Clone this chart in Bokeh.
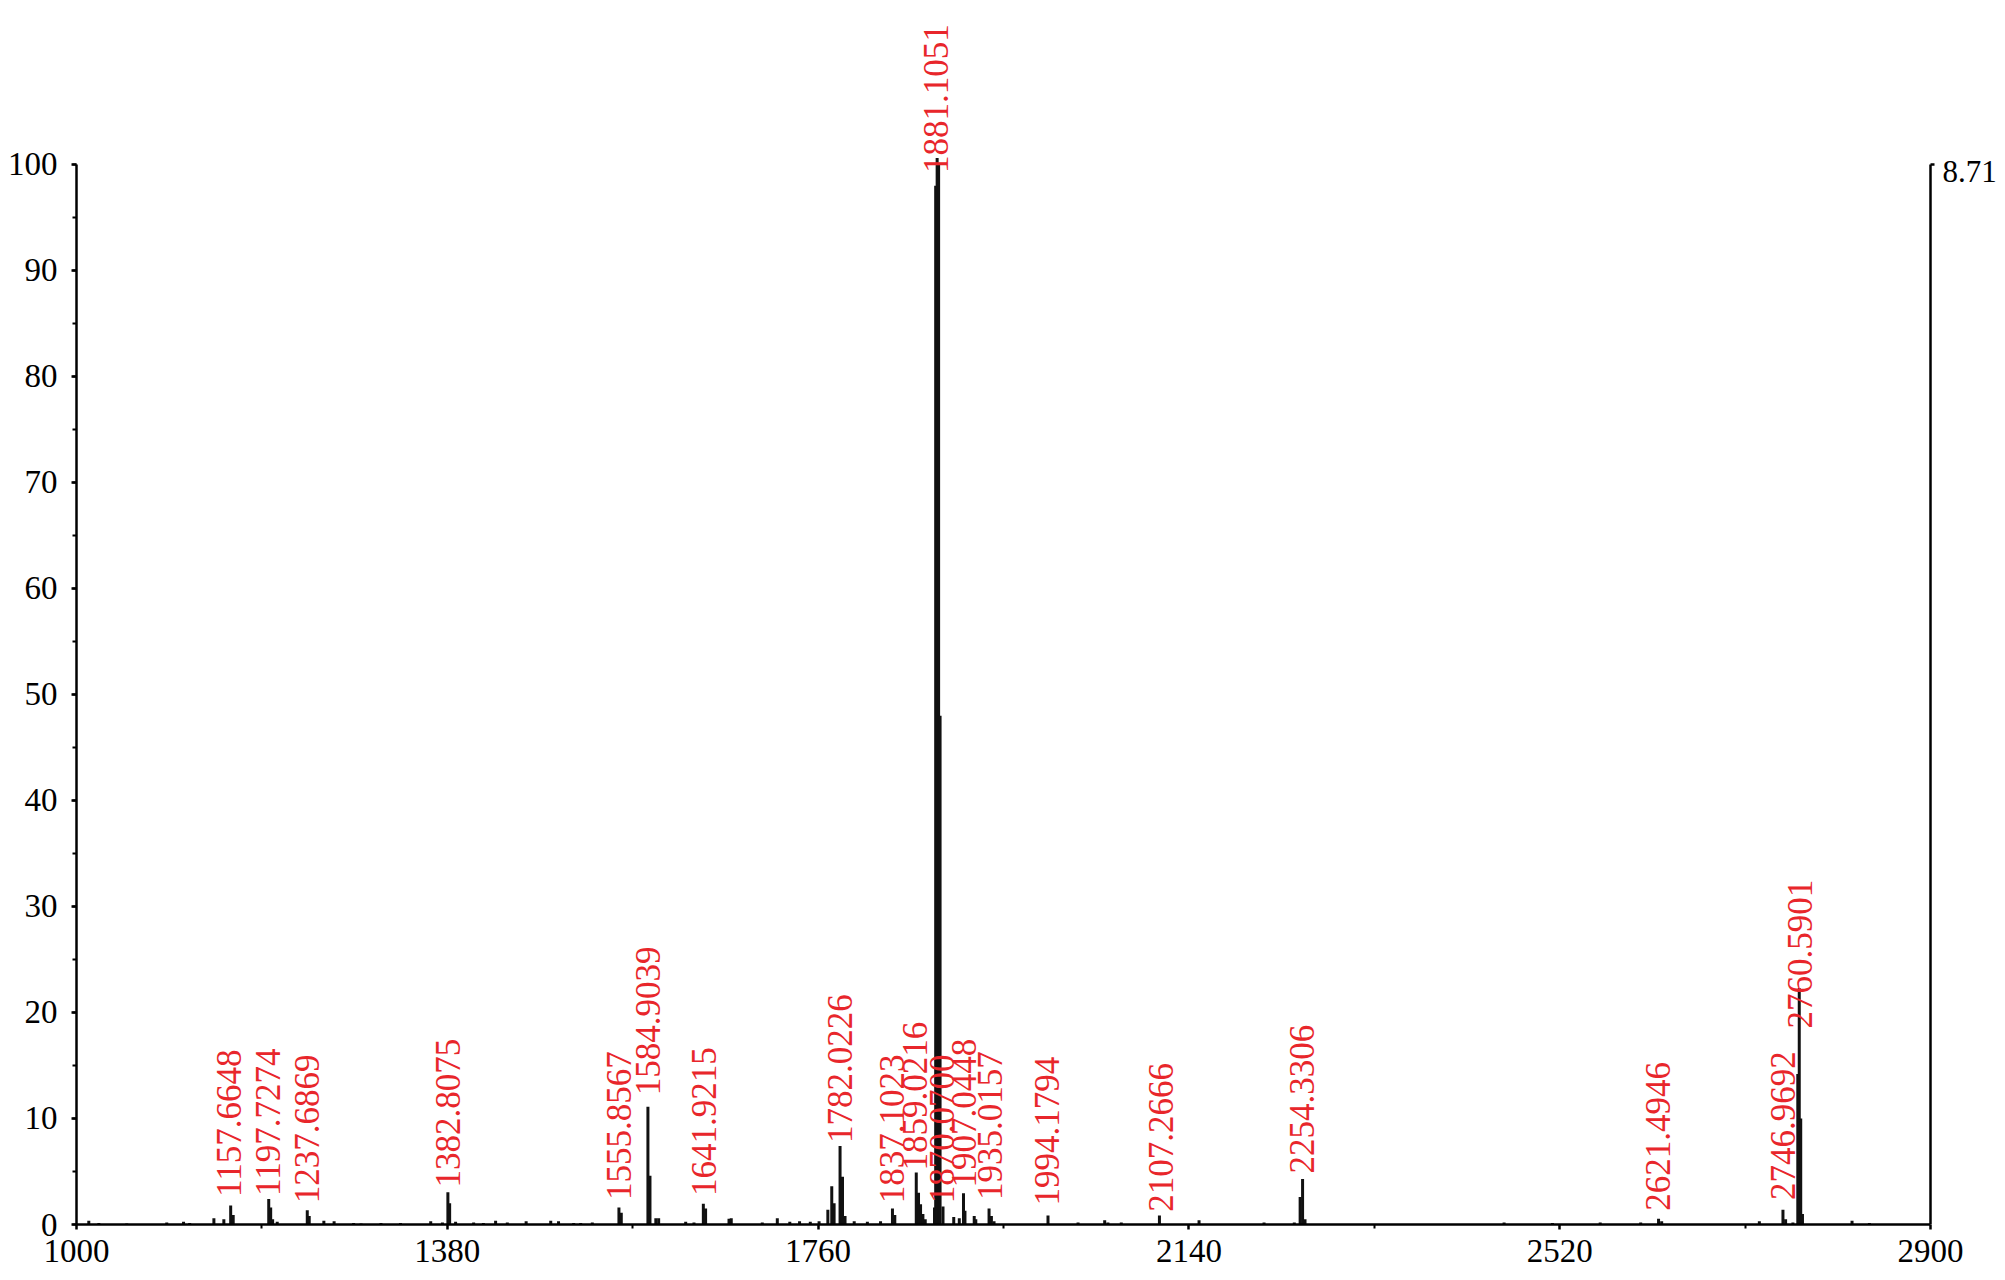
import numpy as np
from bokeh.plotting import figure
from bokeh.models import FixedTicker, Range1d, SingleIntervalTicker, ColumnDataSource, Label
from bokeh.core.properties import value
from bokeh.embed import file_html
from bokeh.resources import INLINE

# ---------------- data ----------------
x_min, x_max = 1000, 2900
x_tick_step = 380
y_min, y_max = 0, 100
y_tick_step = 10
right_axis_text = "8.71"

# annotated peaks: label text, m/z where label sits, intensity where label starts
label_text = ["1157.6648", "1197.7274", "1237.6869", "1382.8075", "1555.8567",
              "1584.9039", "1641.9215", "1782.0226", "1837.1023", "1859.0216",
              "1870.0700", "1881.1051", "1907.0448", "1935.0157", "1994.1794",
              "2107.2666", "2254.3306", "2621.4946", "2746.9692", "2760.5901"]
label_mz = [1156.5, 1196.5, 1236.5, 1380.6, 1556.0,
            1585.6, 1642.6, 1782.0, 1835.5, 1859.5,
            1887.0, 1881.3, 1910.0, 1936.5, 1995.0,
            2111.0, 2256.0, 2621.0, 2748.6, 2766.0]
label_intensity = [2.6, 2.7, 2.0, 3.5, 2.3,
                   12.2, 2.7, 7.7, 2.0, 5.1,
                   2.0, 99.2, 3.5, 2.3, 1.8,
                   1.2, 4.8, 1.3, 2.3, 18.5]

# profile sticks (m/z, relative intensity %)
peak_mz = [
    1012.6, 1022.9, 1051.5, 1092.5, 1109.7, 1116.0, 1140.8, 1151.0, 1158.0, 1160.6,
    1197.0, 1199.0, 1201.0, 1205.7, 1236.5, 1238.5, 1253.5, 1264.0, 1284.0, 1291.6,
    1312.0, 1332.0, 1363.0, 1375.0, 1380.6, 1382.4, 1388.5, 1407.0, 1417.0, 1429.5,
    1441.5, 1460.8, 1486.0, 1494.0, 1509.5, 1516.7, 1528.6, 1555.9, 1558.3, 1585.6,
    1587.7, 1593.7, 1596.6, 1624.3, 1632.8, 1642.4, 1644.7, 1668.7, 1671.0, 1702.8,
    1718.2, 1731.0, 1741.0, 1752.0, 1761.0, 1770.0, 1774.0, 1776.4, 1782.5, 1785.0,
    1787.6, 1797.0, 1810.5, 1824.0, 1836.2, 1838.6, 1860.6, 1862.9, 1865.0, 1867.4,
    1869.8, 1879.3, 1880.5, 1882.0, 1883.5, 1885.0, 1888.0, 1899.0, 1904.7, 1909.0,
    1910.5, 1920.0, 1921.6, 1935.2, 1937.6, 1940.3, 1995.6, 2026.4, 2053.7, 2057.0,
    2070.7, 2109.8, 2150.4, 2217.0, 2248.0, 2254.0, 2256.5, 2259.0, 2463.0, 2512.6,
    2561.5, 2603.0, 2621.3, 2624.5, 2724.6, 2748.8, 2751.5, 2759.0, 2764.0, 2765.5,
    2767.0, 2768.8, 2819.6, 2837.4]
peak_intensity = [
    0.35, 0.15, 0.10, 0.20, 0.25, 0.15, 0.60, 0.50, 1.80, 0.90,
    2.40, 1.60, 0.50, 0.25, 1.35, 0.80, 0.35, 0.30, 0.15, 0.10,
    0.15, 0.15, 0.30, 0.20, 3.05, 2.00, 0.25, 0.20, 0.15, 0.35,
    0.20, 0.30, 0.35, 0.30, 0.15, 0.15, 0.20, 1.60, 1.10, 11.1,
    4.60, 0.60, 0.60, 0.25, 0.20, 1.95, 1.50, 0.55, 0.60, 0.20,
    0.60, 0.25, 0.30, 0.25, 0.30, 1.40, 3.60, 2.00, 7.40, 4.50,
    0.80, 0.30, 0.25, 0.30, 1.50, 0.90, 4.90, 3.00, 1.90, 1.00,
    0.50, 1.60, 98.0, 100.6, 100.0, 48.0, 1.70, 0.70, 0.60, 2.95,
    1.30, 0.80, 0.50, 1.50, 0.80, 0.30, 0.85, 0.20, 0.40, 0.20,
    0.20, 0.85, 0.40, 0.20, 0.20, 2.60, 4.30, 0.50, 0.20, 0.15,
    0.20, 0.20, 0.55, 0.30, 0.30, 1.40, 0.50, 0.20, 14.2, 22.3,
    10.0, 1.00, 0.35, 0.15]

# ---------------- figure ----------------
serif = "Liberation Serif"
fig_w, fig_h = 1997, 1272
border_left, border_top, border_bottom = 76, 16, 48
axis_px = 1854.0                      # screen length of the x axis (x_min..x_max)
frame_w = fig_w - border_left
x_view_end = x_min + (x_max - x_min) * frame_w / axis_px   # room right of the axis for its label
frame_top_value = 113.96

p = figure(width=fig_w, height=fig_h,
           x_range=Range1d(x_min, x_view_end), y_range=Range1d(y_min, frame_top_value),
           output_backend="svg", toolbar_location=None,
           min_border_left=border_left, min_border_right=0,
           min_border_top=border_top, min_border_bottom=border_bottom)
p.background_fill_color = "white"
p.border_fill_color = "white"
p.outline_line_color = None
p.xgrid.visible = False
p.ygrid.visible = False

stick_src = ColumnDataSource(dict(x=peak_mz, y0=[0] * len(peak_mz), y1=peak_intensity))
p.segment(x0="x", y0="y0", x1="x", y1="y1", source=stick_src,
          line_color="#111111", line_width=3)

lab_src = ColumnDataSource(dict(x=label_mz, y=label_intensity, t=label_text))
p.text(x="x", y="y", text="t", source=lab_src, angle=np.pi / 2,
       text_align="left", text_baseline="middle",
       text_color="#e8262b", text_font=value(serif), text_font_size="35px")

# x axis
xticks = list(np.arange(x_min, x_max + 1, x_tick_step))
xminor = list(np.arange(x_min + x_tick_step / 2, x_max, x_tick_step))
xa = p.xaxis[0]
xa.ticker = FixedTicker(ticks=xticks, minor_ticks=xminor)
xa.bounds = (x_min, x_max)
# y axis
ya = p.yaxis[0]
ya.ticker = SingleIntervalTicker(interval=y_tick_step, num_minor_ticks=2)
ya.bounds = (y_min, y_max)

for ax in (xa, ya):
    ax.axis_line_color = "black"
    ax.axis_line_width = 2.5
    ax.major_tick_line_color = "black"
    ax.major_tick_line_width = 2.5
    ax.minor_tick_line_color = "black"
    ax.minor_tick_line_width = 2
    ax.major_tick_in = 0
    ax.major_tick_out = 5
    ax.minor_tick_in = 0
    ax.minor_tick_out = 4
    ax.major_label_text_font = serif
    ax.major_label_text_font_size = "33px"
    ax.major_label_text_color = "black"
xa.major_label_standoff = 10
ya.major_label_standoff = 14

# right-hand intensity axis at x_max
p.segment(x0=[x_max], y0=[y_min], x1=[x_max], y1=[y_max], line_color="black", line_width=2.5)
p.ray(x=[x_max], y=[y_max], length=4, length_units="screen", angle=0,
      line_color="black", line_width=2.5)
p.add_layout(Label(x=x_max, y=y_max, x_offset=12, y_offset=3, text=right_axis_text,
                   text_baseline="top", text_align="left",
                   text_font=serif, text_font_size="31px", text_color="black"))

open("out.html", "w").write(file_html(p, INLINE))
